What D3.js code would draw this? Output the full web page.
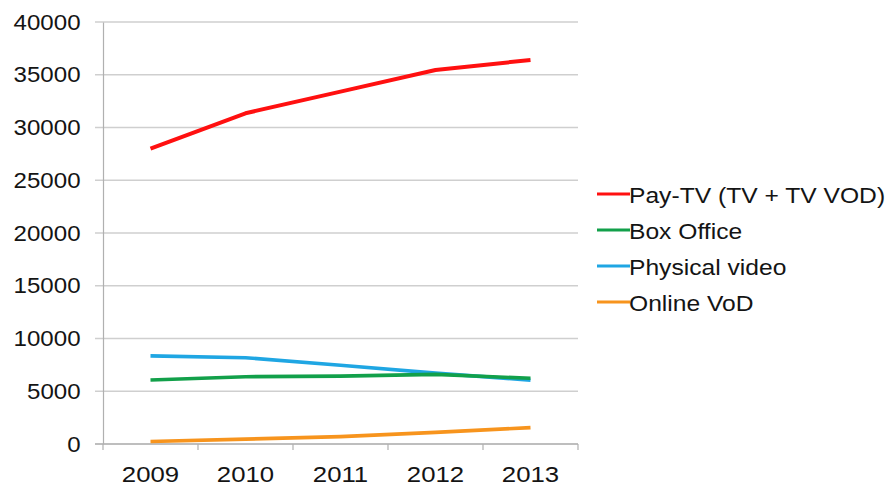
<!DOCTYPE html>
<html>
<head>
<meta charset="utf-8">
<script src="https://cdn.jsdelivr.net/npm/d3@7"></script>
<style>
  html, body { margin: 0; padding: 0; background: #fff; }
  svg { display: block; }
  text { font-family: "Liberation Sans", Arial, sans-serif; fill: #141414; }
</style>
</head>
<body>
<svg id="chart" width="893" height="489"></svg>
<script>
const years = ["2009", "2010", "2011", "2012", "2013"];
const payTV = [28000, 31350, 33400, 35450, 36400];
const boxOffice = [6070, 6380, 6430, 6600, 6230];
const physicalVideo = [8350, 8180, 7460, 6720, 6050];
const onlineVoD = [230, 460, 700, 1100, 1550];
const yTicks = [0, 5000, 10000, 15000, 20000, 25000, 30000, 35000, 40000];
const seriesNames = ["Pay-TV (TV + TV VOD)", "Box Office", "Physical video", "Online VoD"];
const seriesColors = ["#ff1010", "#12a04a", "#1fa6e3", "#f7941d"];

const series = [payTV, boxOffice, physicalVideo, onlineVoD].map((v, i) => ({
  name: seriesNames[i], color: seriesColors[i], values: v
}));

const svg = d3.select("#chart");
const mLeft = 103, mRight = 578, mTop = 22, mBottom = 444;
const SX = 1.12;

const x = d3.scaleBand().domain(years).range([mLeft, mRight]);
const y = d3.scaleLinear().domain([0, 40000]).range([mBottom, mTop]);

// gridlines
svg.append("g")
  .selectAll("line")
  .data(yTicks)
  .join("line")
  .attr("x1", mLeft - 8).attr("x2", mRight)
  .attr("y1", d => y(d)).attr("y2", d => y(d))
  .attr("stroke", d => d === 0 ? "#a8a8a8" : "#cfcfcf")
  .attr("stroke-width", 1.3);

// y axis
const yAxis = svg.append("g")
  .attr("transform", `translate(${mLeft},0)`)
  .call(d3.axisLeft(y).tickValues(yTicks).tickSize(0).tickPadding(21).tickFormat(d3.format("d")));
yAxis.select(".domain").attr("stroke", "#b0b0b0").attr("stroke-width", 1.2);
yAxis.selectAll("text")
  .style("font-size", "22.5px")
  .attr("fill", "#141414")
  .attr("transform", "scale(1.07,1)");

// x axis
const xAxis = svg.append("g")
  .attr("transform", `translate(0,${mBottom})`)
  .call(d3.axisBottom(x).tickSize(0).tickPadding(22));
xAxis.select(".domain").remove();
xAxis.selectAll("text")
  .style("font-size", "23px")
  .attr("fill", "#141414")
  .attr("transform", `scale(${SX},1)`);
// x ticks at band boundaries
const bounds = years.map(d => x(d)).concat([mRight]);
svg.append("g").selectAll("line")
  .data(bounds).join("line")
  .attr("x1", d => d).attr("x2", d => d)
  .attr("y1", mBottom).attr("y2", mBottom + 6)
  .attr("stroke", "#b0b0b0").attr("stroke-width", 1.2);

// lines
const line = d3.line()
  .x((d, i) => x(years[i]) + x.bandwidth() / 2)
  .y(d => y(d));

svg.append("g").selectAll("path")
  .data(series.slice().reverse())
  .join("path")
  .attr("d", d => line(d.values))
  .attr("fill", "none")
  .attr("stroke", d => d.color)
  .attr("stroke-width", d => d.name === seriesNames[0] ? 4 : 3.6)
  .attr("stroke-linejoin", "round");

// legend
const lg = svg.append("g").attr("transform", "translate(597,194)");
const items = lg.selectAll("g").data(series).join("g")
  .attr("transform", (d, i) => `translate(0,${i * 36})`);
items.append("line")
  .attr("x1", 0).attr("x2", 33).attr("y1", 0).attr("y2", 0)
  .attr("stroke", d => d.color).attr("stroke-width", 3);
items.append("text")
  .attr("transform", `translate(32,8.5) scale(${SX},1)`)
  .style("font-size", "22px")
  .text(d => d.name);
</script>
</body>
</html>
